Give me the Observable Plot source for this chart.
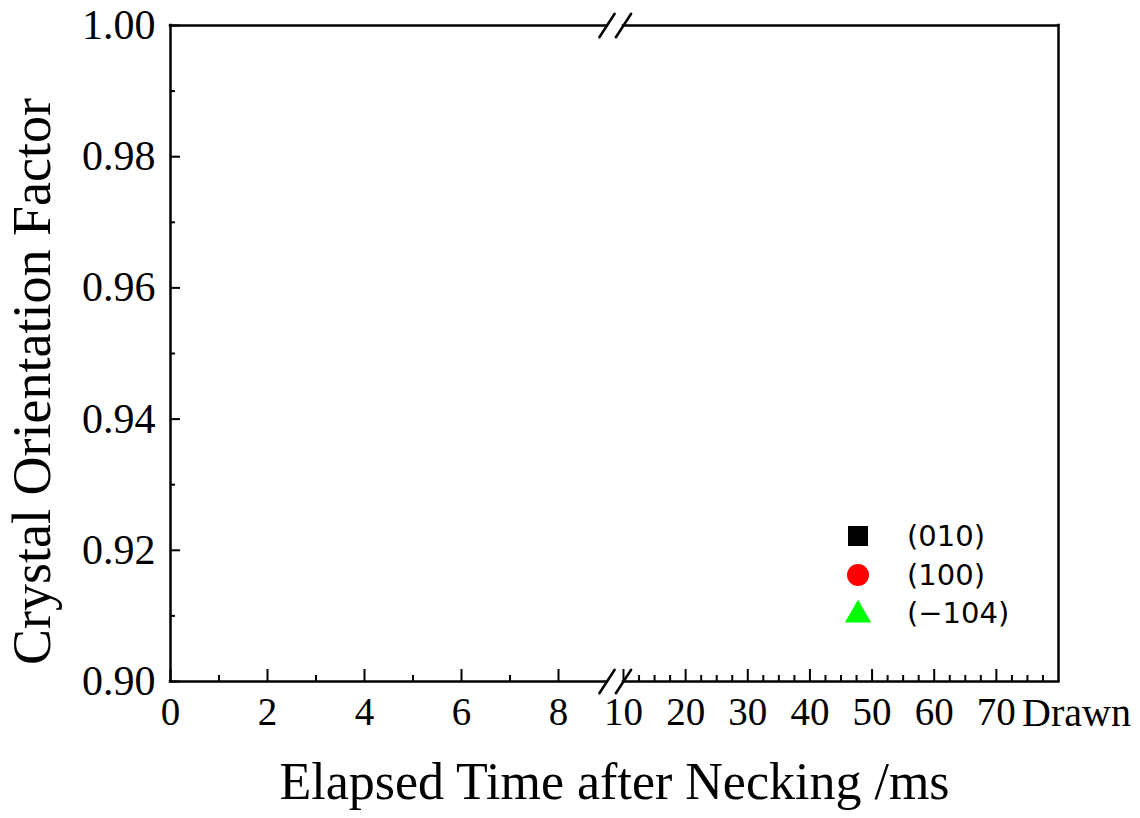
<!DOCTYPE html>
<html><head><meta charset="utf-8">
<script src="https://cdn.jsdelivr.net/npm/d3@7"></script>
<script src="https://cdn.jsdelivr.net/npm/@observablehq/plot@0.6"></script>
<style>
body{margin:0;background:#fff;}
#wrap{position:relative;width:1140px;height:818px;}
#legend{position:absolute;left:836px;top:517px;font-family:"DejaVu Sans",sans-serif;font-size:29px;color:#000;}
.row{display:flex;align-items:center;height:38.5px;}
.row span{line-height:34px;display:block;}
.row svg{width:44px;height:30px;margin-right:27px;flex:none;}
</style></head><body><div id="wrap"><div id="legend"></div></div>
<script>
// ---- data (no measured points are drawn in the reference) ----
const seriesNames = ["(010)", "(100)", "(\u2212104)"];
const seriesColors = ["#000000", "#ff0000", "#00ff00"];
const seriesSymbols = ["square", "circle", "triangle"];
const data010 = [];
const data100 = [];
const data104 = [];

// axis definition (broken x axis: 0–9 | 10–80)
const xDomain = [0, 9, 10, 80];
const xBreaks = [9, 10];
const xMajorLeft = [0, 2, 4, 6, 8];
const xMinorLeft = [1, 3, 5, 7];
const xMajorRight = [10, 20, 30, 40, 50, 60, 70];
const xMinorRight = [12.5, 15, 17.5, 22.5, 25, 27.5, 32.5, 35, 37.5, 42.5, 45, 47.5, 52.5, 55, 57.5, 62.5, 65, 67.5, 72.5, 75, 77.5];
const xEnd = 80;
const xEndLabel = "Drawn";
const yDomain = [0.90, 1.00];
const yMajor = [0.90, 0.92, 0.94, 0.96, 0.98, 1.00];
const yMinor = [0.91, 0.93, 0.95, 0.97, 0.99];
const xTitle = "Elapsed Time after Necking /ms";
const yTitle = "Crystal Orientation Factor";

const serif = "'Liberation Serif','Times New Roman',serif";
const lineShape = {draw(ctx, l) { ctx.moveTo(0, 0); ctx.lineTo(0, -l); }};
const breakPts = [];
for (const bx of xBreaks) for (const by of yDomain) breakPts.push({x: bx, y: by});
const series = [data010, data100, data104];

const chart = Plot.plot({
  width: 1140,
  height: 818,
  marginLeft: 170,
  marginRight: 82,
  marginTop: 25,
  marginBottom: 137,
  style: {fontFamily: serif, fontSize: "42px", background: "white", color: "black", overflow: "visible"},
  x: {type: "linear", domain: xDomain, range: [170, 606.5, 623, 1058]},
  y: {type: "linear", domain: yDomain},
  marks: [
    // frame (broken at top and bottom)
    Plot.ruleY(yDomain, {x1: xDomain[0], x2: xBreaks[0], strokeWidth: 2.5, strokeLinecap: "square"}),
    Plot.ruleY(yDomain, {x1: xBreaks[1], x2: xEnd, strokeWidth: 2.5, strokeLinecap: "square"}),
    Plot.ruleX([xDomain[0], xEnd], {y1: yDomain[0], y2: yDomain[1], strokeWidth: 2.5, strokeLinecap: "square"}),
    // break marks
    Plot.vector(breakPts, {x: "x", y: "y", length: 28, rotate: 33, anchor: "middle", shape: lineShape, stroke: "black", strokeWidth: 2.5}),
    // y axis
    Plot.axisY(yMajor, {tickSize: -10, tickPadding: 25, strokeWidth: 2, tickFormat: d3.format(".2f"), fontSize: 42, label: null}),
    Plot.axisY(yMinor, {tickSize: -5, strokeWidth: 2, tickFormat: () => "", label: null}),
    // x axis
    Plot.axisX([...xMajorLeft, ...xMajorRight], {tickSize: -12, tickPadding: 28, strokeWidth: 2, tickFormat: d => String(d), fontSize: 39, label: null}),
    Plot.axisX([...xMinorLeft, ...xMinorRight], {tickSize: -6, strokeWidth: 2, tickFormat: () => "", label: null}),
    Plot.text([xEndLabel], {x: xEnd, frameAnchor: "bottom", lineAnchor: "top", dy: 16, dx: 18, fontSize: 40, fontFamily: serif}),
    // titles
    Plot.text([xTitle], {frameAnchor: "bottom", lineAnchor: "middle", textAnchor: "middle", dy: 101, fontSize: 52, fontFamily: serif}),
    Plot.text([yTitle], {frameAnchor: "left", lineAnchor: "middle", textAnchor: "middle", rotate: -90, dx: -138, dy: 28, fontSize: 54, fontFamily: serif}),
    // data series (empty in the reference)
    ...series.map((s, i) => Plot.dot(s, {x: "x", y: "y", symbol: seriesSymbols[i], fill: seriesColors[i], r: 9}))
  ]
});
document.getElementById("wrap").prepend(chart);

// legend
const leg = d3.select("#legend");
seriesNames.forEach((name, i) => {
  const row = leg.append("div").attr("class", "row");
  const svg = row.append("svg").attr("viewBox", "-22 -15 44 30");
  const sym = {square: d3.symbolSquare, circle: d3.symbolCircle, triangle: d3.symbolTriangle}[seriesSymbols[i]];
  const size = {square: 400, circle: 380, triangle: 300}[seriesSymbols[i]];
  svg.append("path").attr("d", d3.symbol(sym, size)()).attr("fill", seriesColors[i])
     .attr("transform", seriesSymbols[i] === "triangle" ? "translate(0,2)" : null);
  row.append("span").text(name);
});
</script>
</body></html>
